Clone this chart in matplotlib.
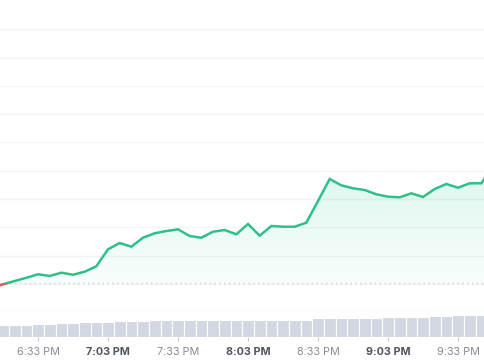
import numpy as np
import matplotlib.pyplot as plt
from matplotlib.patches import Rectangle

# time of each sample, minutes after midnight (6:13 PM ... 9:48 PM, every 5 min)
times = np.arange(18 * 60 + 13, 21 * 60 + 49, 5)

# price (chart units, gridlines at whole numbers)
price = [0.850, 0.981, 1.097, 1.211, 1.335, 1.274, 1.391, 1.320, 1.427, 1.618,
         2.219, 2.442, 2.312, 2.630, 2.786, 2.867, 2.927, 2.690, 2.630, 2.842,
         2.903, 2.750, 3.115, 2.701, 3.044, 3.019, 3.019, 3.161, 3.929, 4.708,
         4.485, 4.379, 4.319, 4.166, 4.081, 4.060, 4.202, 4.071, 4.354, 4.531,
         4.400, 4.556, 4.556, 5.168]
start_price = 1.027

# trading volume (arbitrary units)
volume = [12.5, 12.5, 12.5, 12.5, 12.7, 13.0, 14.5, 14.5, 14.7, 14.7,
          15.0, 16.0, 16.0, 16.0, 16.7, 16.7, 16.7, 16.7, 16.7, 17.3,
          17.3, 17.3, 17.0, 17.0, 17.0, 17.0, 17.0, 17.3, 18.7, 18.7,
          18.7, 18.7, 18.7, 18.7, 19.7, 19.7, 20.3, 20.3, 21.0, 21.0,
          22.0, 22.0, 22.5, 22.7]

tick_times = [18 * 60 + 33 + 30 * i for i in range(7)]
tick_labels = ['6:33 PM', '7:03 PM', '7:33 PM', '8:03 PM', '8:33 PM', '9:03 PM', '9:33 PM']
bold_labels = ['7:03 PM', '8:03 PM', '9:03 PM']

green = '#2fc08a'
red = '#e05a63'
price = np.array(price)

W, H = 485, 360
fig = plt.figure(figsize=(W / 100, H / 100), dpi=100)
plt.rcParams['font.family'] = ['Inter', 'DejaVu Sans']

xmin, xmax = 1096.71, 1304.57

# price panel
ax = fig.add_axes([0, (H - 315) / H, 1, 315 / H])
ax.set_xlim(xmin, xmax)
ax.set_ylim(-0.106, 11.044)
for v in range(11):
    ax.axhline(v, color='#f3f4f6', lw=1, zorder=0)
ax.axhline(start_price, color='#c8cbd2', lw=1, ls=(0, (1, 2.5)), zorder=1)

# gradient fill between line and starting price
upper = np.maximum(price, start_price)
poly = ax.fill_between(times, upper, start_price, facecolor='none', edgecolor='none')
grad = np.linspace(0.03, 0.15, 256).reshape(-1, 1)
rgba = np.zeros((256, 1, 4))
rgba[..., 0], rgba[..., 1], rgba[..., 2] = 22 / 255, 199 / 255, 132 / 255
rgba[..., 3] = grad
im = ax.imshow(rgba, extent=[xmin, xmax, start_price, price.max()], origin='lower',
               aspect='auto', zorder=2, interpolation='bilinear')
im.set_clip_path(poly.get_paths()[0], transform=ax.transData)

# line: green above the start price, red below
up_line, = ax.plot(times, price, color=green, lw=1.8, zorder=3, solid_joinstyle='miter')
up_line.set_clip_path(Rectangle((xmin, start_price), xmax - xmin, 20, transform=ax.transData))
dn_line, = ax.plot(times, price, color=red, lw=1.8, zorder=3)
dn_line.set_clip_path(Rectangle((xmin, -20), xmax - xmin, 20 + start_price, transform=ax.transData))
ax.axis('off')

# volume panel
vax = fig.add_axes([0, (H - 337) / H, 1, 25 / H])
vax.set_xlim(xmin, xmax)
vax.set_ylim(0, 25)
vax.bar(times, volume, width=5, color='#d3d7e1', edgecolor='white', linewidth=0.8)
for s in vax.spines.values():
    s.set_visible(False)
vax.set_yticks([])
vax.set_xticks(tick_times)
vax.set_xticklabels(tick_labels)
vax.tick_params(axis='x', length=3, color='#c6c9cf', pad=4, labelsize=7.8, labelcolor='#868b94')
for lab in vax.get_xticklabels():
    if lab.get_text() in bold_labels:
        lab.set_fontweight('bold')
        lab.set_color('#4f545d')

fig.savefig('out.png', dpi=100)
